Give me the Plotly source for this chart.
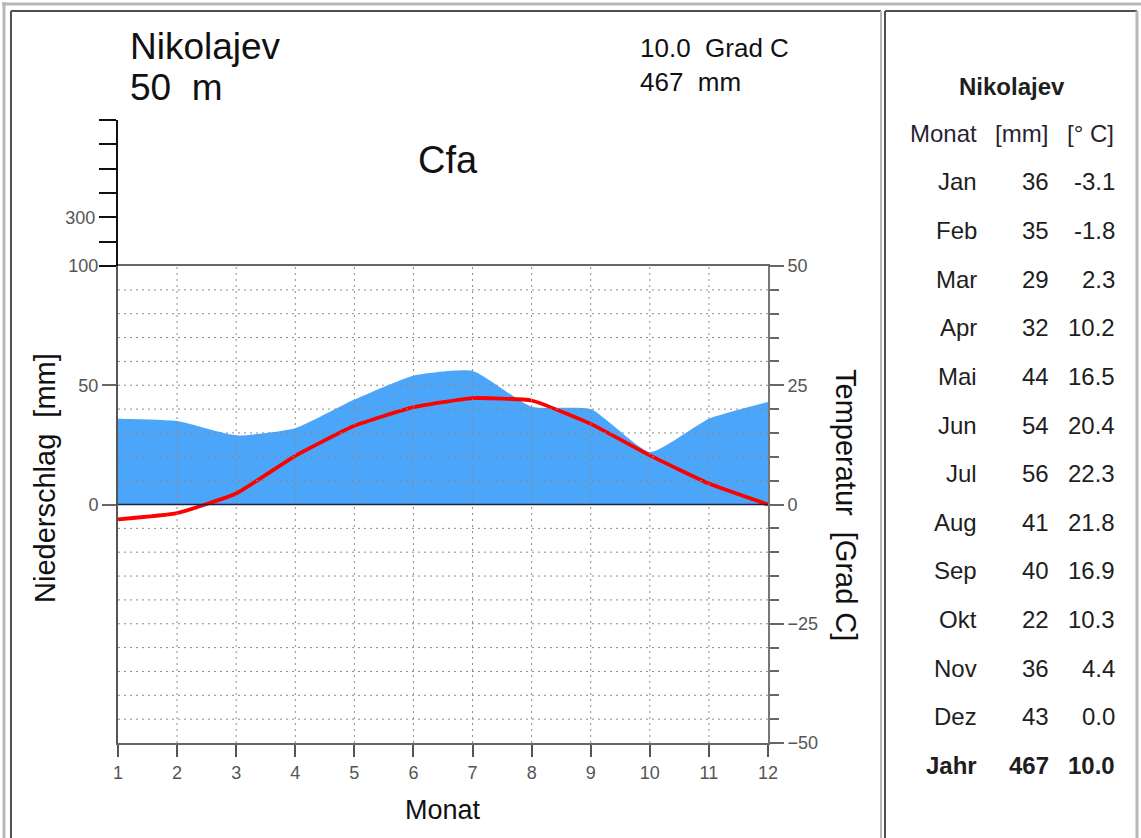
import plotly.graph_objects as go

W, H = 1141, 838

# ---------------- data ----------------
station = "Nikolajev"
elevation = "50 m"
climate_class = "Cfa"
months = list(range(1, 13))
month_names = ["Jan", "Feb", "Mar", "Apr", "Mai", "Jun", "Jul", "Aug", "Sep", "Okt", "Nov", "Dez"]
precip_mm = [36, 35, 29, 32, 44, 54, 56, 41, 40, 22, 36, 43]
temp_c = [-3.1, -1.8, 2.3, 10.2, 16.5, 20.4, 22.3, 21.8, 16.9, 10.3, 4.4, 0.0]
annual_precip = 467
annual_temp = 10.0

precip_ticks = [0, 50, 100]
upper_ticks = [100, 200, 300, 400, 500, 600, 700]
upper_labels = ["", "", "300", "", "", "", ""]
grid_levels = [v for v in range(-90, 100, 10) if v != 0]

CHART_FONT = "Liberation Sans, Arial, sans-serif"
TABLE_FONT = "Liberation Sans, Arial, sans-serif"


def px(p):
    return p / W


def py(p):
    return 1 - p / H


fig = go.Figure()
fig.add_trace(go.Scatter(
    x=months, y=precip_mm, mode="lines", fill="tozeroy",
    line=dict(width=0, shape="spline", smoothing=0.5),
    fillcolor="#4ba6fa", xaxis="x", yaxis="y", hoverinfo="skip", showlegend=False))
fig.add_trace(go.Scatter(
    x=months, y=temp_c, mode="lines",
    line=dict(color="#ff0000", width=3.8, shape="spline", smoothing=0.4),
    xaxis="x", yaxis="y2", showlegend=False))
# empty trace so that the upper (compressed) precipitation axis gets its subplot
fig.add_trace(go.Scatter(x=[], y=[], xaxis="x", yaxis="y3", showlegend=False,
                         hoverinfo="skip"))

shapes = []
# dotted grid (drawn above the fill)
for m in months[1:-1]:
    shapes.append(dict(type="line", xref="x", yref="y", x0=m, x1=m, y0=-100, y1=100,
                       line=dict(color="#8a8a8a", width=1, dash="2px,4px"), layer="above"))
for v in grid_levels:
    shapes.append(dict(type="line", xref="x", yref="y", x0=1, x1=12, y0=v, y1=v,
                       line=dict(color="#8a8a8a", width=1, dash="2px,4px"), layer="above"))
# zero line
shapes.append(dict(type="line", xref="x", yref="y", x0=1, x1=12, y0=0, y1=0,
                   line=dict(color="#1c2240", width=1.6), layer="above"))

# frames / borders (paper, pixel based)
light = "#b8b8b8"
dark = "#505050"
shapes += [
    dict(type="line", xref="paper", yref="paper", x0=px(2), x1=px(W), y0=py(4), y1=py(4),
         line=dict(color=light, width=3)),
    dict(type="line", xref="paper", yref="paper", x0=px(4), x1=px(4), y0=py(2), y1=py(H + 5),
         line=dict(color=light, width=3)),
    # left cell
    dict(type="line", xref="paper", yref="paper", x0=px(11), x1=px(881), y0=py(11), y1=py(11),
         line=dict(color=dark, width=2)),
    dict(type="line", xref="paper", yref="paper", x0=px(11), x1=px(11), y0=py(11), y1=py(H + 5),
         line=dict(color=dark, width=2)),
    dict(type="line", xref="paper", yref="paper", x0=px(881), x1=px(881), y0=py(11), y1=py(H + 5),
         line=dict(color=light, width=2)),
    # right cell
    dict(type="line", xref="paper", yref="paper", x0=px(885), x1=px(1137), y0=py(11), y1=py(11),
         line=dict(color=dark, width=2)),
    dict(type="line", xref="paper", yref="paper", x0=px(885), x1=px(885), y0=py(11), y1=py(H + 5),
         line=dict(color=dark, width=2)),
    dict(type="line", xref="paper", yref="paper", x0=px(1137), x1=px(1137), y0=py(11), y1=py(H + 5),
         line=dict(color=light, width=3)),
]

ann = []


def text(x, y, s, size, color="#111", family=CHART_FONT, xanchor="left", angle=0):
    ann.append(dict(x=px(x), y=py(y), xref="paper", yref="paper", text=s, showarrow=False,
                    xanchor=xanchor, yanchor="middle", textangle=angle,
                    font=dict(family=family, size=size, color=color)))


# chart texts
text(128, 46, station, 37)
text(128, 88, elevation.replace(" ", "\u00a0\u00a0"), 37)
text(638, 48, f"{annual_temp:.1f}\u00a0\u00a0Grad\u00a0C", 26)
text(638, 82, f"{annual_precip}\u00a0\u00a0mm", 26)
text(448, 160, climate_class, 38, xanchor="center")
text(45, 478, "Niederschlag\u00a0\u00a0[mm]", 29, xanchor="center", angle=-90)
text(846, 505, "Temperatur\u00a0\u00a0[Grad\u00a0C]", 29, xanchor="center", angle=90)
text(443, 810, "Monat", 27, xanchor="center")

# table
tc = "#1e1e1e"
hc = "#2a1f35"
TS = 24
text(1012, 86, f"<b>{station}</b>", TS, color=tc, family=TABLE_FONT, xanchor="center")
text(943, 133, "Monat", TS, color=hc, family=TABLE_FONT, xanchor="center")
text(1021, 133, "[mm]", TS, color=hc, family=TABLE_FONT, xanchor="center")
text(1090, 133, "[°\u00a0C]", TS, color=hc, family=TABLE_FONT, xanchor="center")
row_y0, row_dy = 182, 48.6
for i, (mn, p, t) in enumerate(zip(month_names, precip_mm, temp_c)):
    y = row_y0 + i * row_dy
    text(979, y, mn, TS, color=tc, family=TABLE_FONT, xanchor="right")
    text(1051, y, str(p), TS, color=tc, family=TABLE_FONT, xanchor="right")
    text(1117, y, f"{t:.1f}", TS, color=tc, family=TABLE_FONT, xanchor="right")
yj = row_y0 + 12 * row_dy
text(979, yj, "<b>Jahr</b>", TS, color=tc, family=TABLE_FONT, xanchor="right")
text(1051, yj, f"<b>{annual_precip}</b>", TS, color=tc, family=TABLE_FONT, xanchor="right")
text(1117, yj, f"<b>{annual_temp:.1f}</b>", TS, color=tc, family=TABLE_FONT, xanchor="right")

tickfont = dict(family=CHART_FONT, size=18, color="#555")
xdom = [px(118), px(768)]
ydom = [py(743), py(266)]
updom = [py(266), py(120)]

fig.update_layout(
    width=W, height=H, margin=dict(l=0, r=0, t=0, b=0),
    paper_bgcolor="white", plot_bgcolor="rgba(0,0,0,0)",
    showlegend=False,
    xaxis=dict(domain=xdom, range=[1, 12], tickvals=months, ticks="outside", ticklen=12,
               tickwidth=1.5, tickcolor="#555", showline=True, linecolor="#666", linewidth=2,
               mirror=True, showgrid=False, zeroline=False, tickfont=tickfont, anchor="y",
               automargin=False),
    yaxis=dict(domain=ydom, range=[-100, 100], tickvals=precip_ticks, ticks="outside",
               ticklen=14, tickwidth=1.5, tickcolor="#666", showline=True, linecolor="#555",
               linewidth=2, showgrid=False, zeroline=False, tickfont=tickfont, anchor="x",
               automargin=False),
    yaxis2=dict(overlaying="y", side="right", anchor="x", range=[-50, 50], tickmode="linear",
                tick0=0, dtick=25, ticks="outside", ticklen=14, tickwidth=2, tickcolor="#666",
                minor=dict(dtick=5, tick0=0, ticks="outside", ticklen=9, tickwidth=2,
                           tickcolor="#666", showgrid=False),
                showline=True, linecolor="#777", linewidth=2, showgrid=False, zeroline=False,
                tickfont=tickfont, automargin=False),
    yaxis3=dict(domain=updom, range=[100, 700], anchor="x", tickmode="array",
                tickvals=upper_ticks, ticktext=upper_labels, ticks="outside", ticklen=17,
                tickwidth=2, tickcolor="#111", showline=True, linecolor="#111", linewidth=2,
                showgrid=False, zeroline=False, tickfont=tickfont, automargin=False),
    shapes=shapes,
    annotations=ann,
)

fig.write_html(
    "out.html",
    config={"displayModeBar": False},
    post_script="document.body.style.margin='0';document.body.style.overflow='hidden';",
)
